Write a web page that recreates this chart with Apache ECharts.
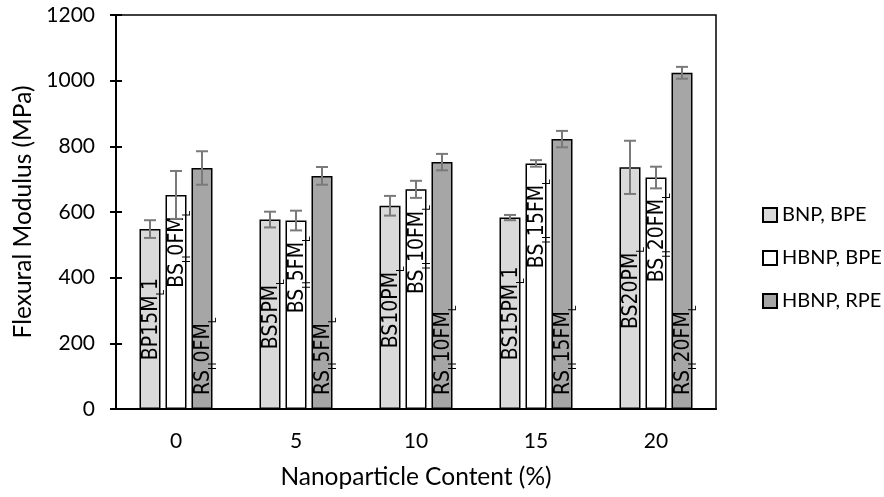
<!DOCTYPE html>
<html>
<head>
<meta charset="utf-8">
<script src="https://cdn.jsdelivr.net/npm/echarts@6/dist/echarts.min.js"></script>
<style>
  html, body { margin: 0; padding: 0; background: #fff; }
  #chart { width: 884px; height: 497px; }
</style>
</head>
<body>
<div id="chart"></div>
<script>
// Nanoparticle content categories (%)
const categories = ['0', '5', '10', '15', '20'];
const seriesNames = ['BNP, BPE', 'HBNP, BPE', 'HBNP, RPE'];

// Flexural modulus (MPa) and standard deviation per formulation
const bnpBpe = [548, 577, 619, 583, 736];
const bnpBpeErr = [27, 24, 30, 8, 81];
const hbnpBpe = [652, 574, 669, 748, 705];
const hbnpBpeErr = [73, 30, 26, 10, 33];
const hbnpRpe = [734, 710, 752, 822, 1024];
const hbnpRpeErr = [51, 27, 25, 25, 18];

// Sample codes written on the bars; "_X" marks a subscript letter
const bnpBpeCodes = ['BP15M_L1', 'BS5PM_L', 'BS10PM_L', 'BS15PM_L1', 'BS20PM_L'];
const hbnpBpeCodes = ['BS_H0FM_L', 'BS_H5FM_L', 'BS_H10FM_L', 'BS_H15FM_L', 'BS_H20FM_L'];
const hbnpRpeCodes = ['RS_H0FM_L', 'RS_H5FM_L', 'RS_H10FM_L', 'RS_H15FM_L', 'RS_H20FM_L'];

// Value axis range
const yMin = 0, yMax = 1200, yStep = 200;

const FONT = 'Lato, "Open Sans", sans-serif';
const CODE_FONT = '"Liberation Sans Narrow", "DejaVu Sans Condensed", Lato, sans-serif';
const BAR_W = 21;
const BAR_GAP = 5;
const STEP = BAR_W + BAR_GAP;

function toRich(code) {
  return code.replace(/_(\w)/g, '{sub|$1}');
}

function codeLabel(codes, extra) {
  return Object.assign({
    show: true,
    rotate: 90,
    color: '#000',
    fontFamily: CODE_FONT,
    fontSize: 21,
    lineHeight: 30,
    padding: [4, 0, 0, 0],
    verticalAlign: 'middle',
    formatter: p => toRich(codes[p.dataIndex]),
    rich: {
      sub: { fontFamily: CODE_FONT, fontSize: 11, lineHeight: 9, verticalAlign: 'bottom', color: '#000' }
    }
  }, extra);
}

function barSeries(name, values, color, codes, labelPos) {
  return {
    name: name,
    type: 'bar',
    barWidth: BAR_W,
    barGap: (BAR_GAP / BAR_W * 100).toFixed(1) + '%',
    data: values,
    itemStyle: { color: color, borderColor: '#000', borderWidth: 1.5 },
    label: codeLabel(codes, labelPos),
    emphasis: { disabled: true },
    animation: false
  };
}

function errorSeries(name, values, errs, slot) {
  return {
    name: name,
    type: 'custom',
    z: 10,
    silent: true,
    animation: false,
    data: values.map((v, i) => [i, v - errs[i], v + errs[i]]),
    renderItem: function (params, api) {
      const lo = api.coord([api.value(0), api.value(1)]);
      const hi = api.coord([api.value(0), api.value(2)]);
      const x = lo[0] + slot * STEP;
      const cap = 6;
      const style = { stroke: '#7a7a7a', lineWidth: 2, fill: null };
      return {
        type: 'group',
        children: [
          { type: 'line', shape: { x1: x, y1: lo[1], x2: x, y2: hi[1] }, style: style },
          { type: 'line', shape: { x1: x - cap, y1: lo[1], x2: x + cap, y2: lo[1] }, style: style },
          { type: 'line', shape: { x1: x - cap, y1: hi[1], x2: x + cap, y2: hi[1] }, style: style }
        ]
      };
    }
  };
}

const chart = echarts.init(document.getElementById('chart'), null, { renderer: 'canvas' });

chart.setOption({
  animation: false,
  backgroundColor: '#fff',
  textStyle: { fontFamily: FONT },
  grid: {
    left: 116, right: 168, top: 15, bottom: 88,
    show: true, borderColor: '#000', borderWidth: 1.5,
    outerBoundsMode: 'none'
  },
  legend: {
    data: seriesNames,
    orient: 'vertical',
    icon: 'rect',
    left: 757,
    top: 200,
    itemWidth: 14,
    itemHeight: 14,
    itemGap: 23,
    textStyle: { fontFamily: FONT, fontSize: 20, color: '#000' },
    selectedMode: false
  },
  xAxis: {
    type: 'category',
    data: categories,
    axisLine: { lineStyle: { color: '#000', width: 2 } },
    axisTick: { show: false },
    axisLabel: { color: '#000', fontFamily: FONT, fontSize: 21, margin: 22 },
    name: 'Nanoparticle Content (%)',
    nameLocation: 'middle',
    nameGap: 56,
    nameTextStyle: { color: '#000', fontFamily: FONT, fontSize: 24.5 }
  },
  yAxis: [
    {
      type: 'value',
      min: yMin, max: yMax, interval: yStep,
      axisLine: { show: true, lineStyle: { color: '#000', width: 2 } },
      axisTick: { show: true, length: 6, lineStyle: { color: '#000', width: 2 } },
      axisLabel: { color: '#000', fontFamily: FONT, fontSize: 21, margin: 21, formatter: v => String(v) },
      splitLine: { show: false },
      name: 'Flexural Modulus (MPa)',
      nameLocation: 'middle',
      nameGap: 80,
      nameTextStyle: { color: '#000', fontFamily: FONT, fontSize: 24.5 }
    },
    {
      type: 'value',
      position: 'left',
      min: yMin, max: yMax, interval: yStep,
      axisLine: { show: false },
      axisTick: { show: true, inside: true, length: 6, lineStyle: { color: '#000', width: 2 } },
      axisLabel: { show: false },
      splitLine: { show: false }
    }
  ],
  series: [
    barSeries(seriesNames[0], bnpBpe, '#d9d9d9', bnpBpeCodes,
      { position: 'inside', align: 'center' }),
    barSeries(seriesNames[1], hbnpBpe, '#ffffff', hbnpBpeCodes,
      { position: 'insideTop', align: 'right', distance: 16 }),
    barSeries(seriesNames[2], hbnpRpe, '#a6a6a6', hbnpRpeCodes,
      { position: 'insideBottom', align: 'left', distance: 14 }),
    errorSeries('BNP, BPE error', bnpBpe, bnpBpeErr, -1),
    errorSeries('HBNP, BPE error', hbnpBpe, hbnpBpeErr, 0),
    errorSeries('HBNP, RPE error', hbnpRpe, hbnpRpeErr, 1)
  ]
});
</script>
</body>
</html>
